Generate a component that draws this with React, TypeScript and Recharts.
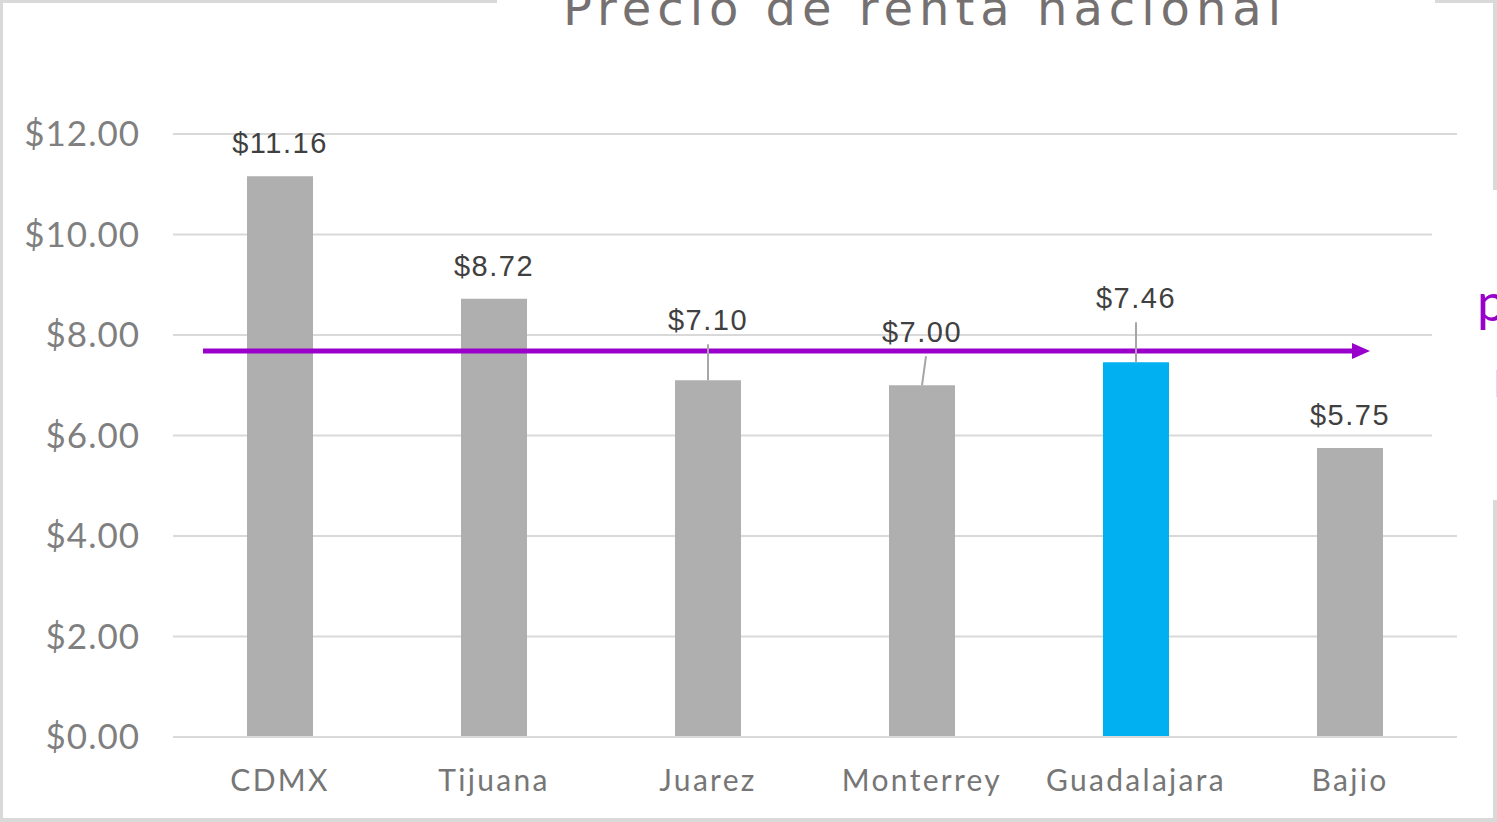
import React from 'react';
import { BarChart, Bar, XAxis, YAxis, CartesianGrid, ReferenceLine, Cell } from 'recharts';

const cities = ['CDMX', 'Tijuana', 'Juarez', 'Monterrey', 'Guadalajara', 'Bajio'];
const prices = [11.16, 8.72, 7.1, 7.0, 7.46, 5.75];
const highlight = 'Guadalajara';
const referencePrice = 7.68;
const yTicks = [0, 2, 4, 6, 8, 10, 12];

// labels that sit under the purple arrow get pushed above it (px)
const labelLift: Record<string, number> = { Juarez: 27, Monterrey: 20, Guadalajara: 31 };

const data = cities.map((c, i) => ({ city: c, price: prices[i] }));

const money = (v: number) => `$${v.toFixed(2)}`;

function PriceLabel(props: any) {
  const { x, y, width, value, index } = props;
  const city = cities[index];
  const lift = labelLift[city] || 0;
  const cx = x + width / 2;
  const base = y - 23 - lift;
  return (
    <g>
      {lift > 0 && (
        <line x1={cx + (city === 'Monterrey' ? 4 : 0)} y1={base + 14} x2={cx} y2={y} stroke="#a6a6a6" strokeWidth={2} />
      )}
      <text x={cx} y={base} textAnchor="middle" fontFamily="Liberation Sans, Arial" fontSize={29} letterSpacing={1.5} fill="#404040">
        {money(value)}
      </text>
    </g>
  );
}

function ArrowLine(props: any) {
  const { x1, x2, y1 } = props;
  const start = x1 + 30;
  const end = x2 - 87;
  return (
    <g>
      <line x1={start} y1={y1} x2={end - 14} y2={y1} stroke="#9900cc" strokeWidth={5} />
      <polygon points={`${end - 18},${y1 - 8} ${end},${y1} ${end - 18},${y1 + 8}`} fill="#9900cc" />
    </g>
  );
}

export default function App() {
  return (
    <div style={{ position: 'absolute', left: 0, top: 0, width: 1497, height: 822, background: '#fff', overflow: 'hidden' }}>
      {/* slide frame */}
      <div style={{ position: 'absolute', left: 0, top: 0, width: 1497, height: 822, boxSizing: 'border-box', border: '3px solid #d9d9d9', borderRightWidth: 4, borderBottomWidth: 4 }} />
      <div style={{ position: 'absolute', left: 0, top: 0, width: 1497, height: 822 }}>
        <BarChart width={1497} height={822} data={data} margin={{ top: 134, right: 40, bottom: 25, left: 0 }}>
          <CartesianGrid vertical={false} stroke="#d9d9d9" strokeWidth={2} />
          <XAxis
            dataKey="city"
            height={60}
            axisLine={{ stroke: '#d9d9d9', strokeWidth: 2 }}
            tickLine={false}
            tickMargin={27}
            tick={{ fontSize: 30, fill: '#767676', fontFamily: 'Lato, Open Sans, sans-serif', letterSpacing: 2.3 }}
          />
          <YAxis
            width={173}
            domain={[0, 12]}
            ticks={yTicks}
            axisLine={false}
            tickLine={false}
            tickMargin={27}
            tickFormatter={money}
            tick={{ fontSize: 35, fill: '#7f7f7f', fontFamily: 'Lato, Open Sans, sans-serif', letterSpacing: 1 }}
          />
          <Bar dataKey="price" barSize={66} isAnimationActive={false} label={<PriceLabel />}>
            {data.map((d) => (
              <Cell key={d.city} fill={d.city === highlight ? '#00b0f0' : '#afafaf'} />
            ))}
          </Bar>
          <ReferenceLine y={referencePrice} shape={<ArrowLine />} />
        </BarChart>
      </div>
      {/* title box breaks the top frame */}
      <div style={{ position: 'absolute', left: 497, top: 0, width: 938, height: 6, background: '#fff' }} />
      <div style={{ position: 'absolute', left: 0, top: -22, width: 1850, textAlign: 'center', fontFamily: 'DejaVu Sans, sans-serif', fontSize: 48, lineHeight: '60px', letterSpacing: 6, color: '#767171' }}>
        Precio de renta nacional
      </div>
      {/* side text box, mostly cut off */}
      <div style={{ position: 'absolute', left: 1432, top: 190, width: 80, height: 310, background: '#fff' }} />
      <div style={{ position: 'absolute', left: 1477, top: 268, fontFamily: 'Lato, sans-serif', fontSize: 52, lineHeight: '66px', whiteSpace: 'nowrap' }}>
        <div style={{ color: '#9900cc' }}>promedio</div>
        <div style={{ color: '#c58ef0', marginLeft: 16, marginTop: 10 }}>nacional</div>
      </div>
    </div>
  );
}
